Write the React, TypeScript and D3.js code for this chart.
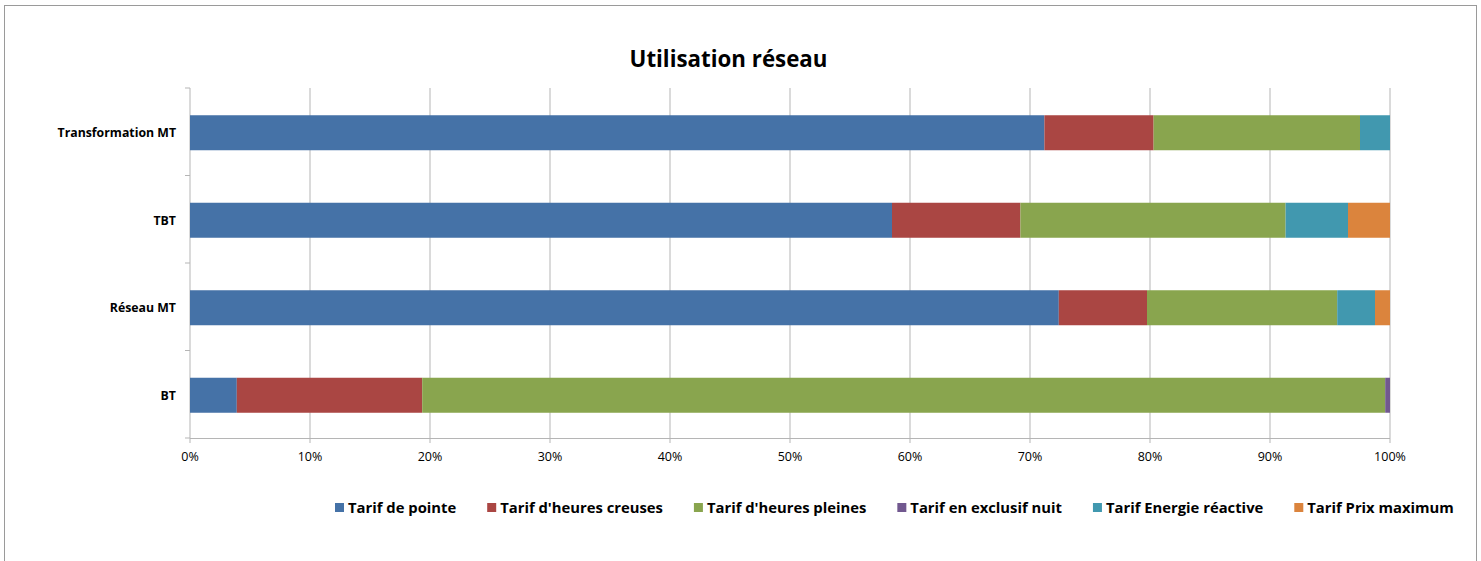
import React from 'react';
import * as d3 from 'd3';

const categories = ['Transformation MT', 'TBT', 'Réseau MT', 'BT'];
const seriesNames = [
  'Tarif de pointe',
  "Tarif d'heures creuses",
  "Tarif d'heures pleines",
  'Tarif en exclusif nuit',
  'Tarif Energie réactive',
  'Tarif Prix maximum',
];
const seriesColors = ['#4572A7', '#AA4643', '#89A54E', '#71588F', '#4198AF', '#DB843D'];

const tarifDePointe = [71.2, 58.5, 72.4, 3.9];
const heuresCreuses = [9.1, 10.7, 7.35, 15.45];
const heuresPleines = [17.2, 22.1, 15.85, 80.25];
const exclusifNuit = [0, 0, 0, 0.4];
const energieReactive = [2.5, 5.2, 3.15, 0];
const prixMaximum = [0, 3.5, 1.25, 0];

const xTicks = [0, 10, 20, 30, 40, 50, 60, 70, 80, 90, 100];
const title = 'Utilisation réseau';

const W = 1481;
const H = 561;
const FONT = "'Open Sans', sans-serif";

function textWidth(txt: string, font: string): number {
  const c = document.createElement('canvas');
  const ctx = c.getContext('2d');
  if (!ctx) return txt.length * 8;
  ctx.font = font;
  return ctx.measureText(txt).width;
}

export default function App() {
  const series = [tarifDePointe, heuresCreuses, heuresPleines, exclusifNuit, energieReactive, prixMaximum];
  const rows = categories.map((c, i) => {
    const r: Record<string, any> = { cat: c };
    seriesNames.forEach((s, j) => (r[s] = series[j][i]));
    return r;
  });
  const stacked = d3.stack<any>().keys(seriesNames)(rows);

  const x = d3.scaleLinear().domain([0, 100]).range([190, 1390]);
  const y = d3.scaleBand<string>().domain(categories).range([88, 438]).paddingInner(0.6).paddingOuter(0.3);
  const step = y.step();
  const bandEdges = d3.range(categories.length + 1).map((i) => 88 + i * step);

  const legendFontSize = 14.8;
  const legendFont = `bold ${legendFontSize}px ${FONT}`;
  let lx = 335;
  const legendItems = seriesNames.map((s, i) => {
    const w = textWidth(s, `bold ${legendFontSize}px 'Open Sans'`);
    const item = { name: s, color: seriesColors[i], x: lx };
    lx += 9 + 4 + w + 31;
    return item;
  });

  const gridColor = '#b5b5b5';

  return (
    <svg width={W} height={H} style={{ position: 'absolute', left: 0, top: 0, background: '#fff' }}>
      <rect x={4.5} y={5.5} width={1472} height={560} fill="#fff" stroke="#9a9a9a" strokeWidth={1} />
      <text x={728.5} y={67} textAnchor="middle" fontFamily={FONT} fontWeight="bold" fontSize={22.3} fill="#000">
        {title}
      </text>
      {xTicks.map((t) => (
        <g key={t}>
          <line x1={x(t)} x2={x(t)} y1={88} y2={443} stroke={gridColor} strokeWidth={1} />
          <text x={x(t)} y={461} textAnchor="middle" fontFamily={FONT} fontSize={12.5} fill="#000">
            {t}%
          </text>
        </g>
      ))}
      <line x1={190} x2={1390} y1={438.5} y2={438.5} stroke={gridColor} strokeWidth={1} />
      {bandEdges.map((b, i) => (
        <line key={i} x1={185} x2={190} y1={b} y2={b} stroke={gridColor} strokeWidth={1} />
      ))}
      {stacked.map((layer, li) => (
        <g key={layer.key} fill={seriesColors[li]}>
          {layer.map((d, i) => {
            const w = x(d[1]) - x(d[0]);
            if (w <= 0) return null;
            return <rect key={i} x={x(d[0])} y={(y(categories[i]) as number) + 1} width={w} height={y.bandwidth()} />;
          })}
        </g>
      ))}
      {categories.map((c) => (
        <text
          key={c}
          x={176}
          y={(y(c) as number) + 1 + y.bandwidth() / 2}
          dy="0.35em"
          textAnchor="end"
          fontFamily={FONT}
          fontWeight="bold"
          fontSize={12.3}
          fill="#000"
        >
          {c}
        </text>
      ))}
      {legendItems.map((it) => (
        <g key={it.name}>
          <rect x={it.x} y={503} width={9} height={9} fill={it.color} />
          <text x={it.x + 13} y={508} dy="0.35em" style={{ font: legendFont }} fill="#000">
            {it.name}
          </text>
        </g>
      ))}
    </svg>
  );
}
